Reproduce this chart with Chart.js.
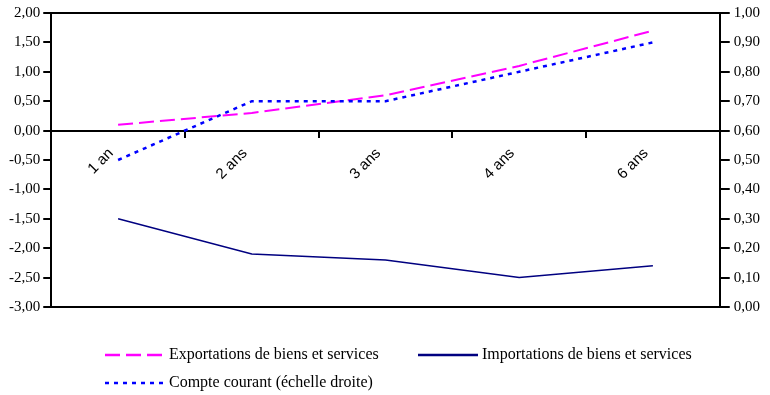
<!DOCTYPE html>
<html>
<head>
<meta charset="utf-8">
<title>Exportations, importations et compte courant</title>
<script src="https://cdn.jsdelivr.net/npm/chart.js@4"></script>
<style>
  body { margin: 0; background: #fff; }
  canvas { display: block; }
</style>
</head>
<body>
<canvas id="chart" width="770" height="395"></canvas>
<script>
// Horizons (axe des abscisses)
var horizons = ['1 an', '2 ans', '3 ans', '4 ans', '6 ans'];

// Echelle gauche
var exportations = [0.10, 0.30, 0.60, 1.10, 1.70];
var importations = [-1.50, -2.10, -2.20, -2.50, -2.30];

// Echelle droite
var compteCourant = [0.50, 0.70, 0.70, 0.80, 0.90];

// Graduations
var leftTicks = [-3, -2.5, -2, -1.5, -1, -0.5, 0, 0.5, 1, 1.5, 2];
var rightTicks = [0, 0.1, 0.2, 0.3, 0.4, 0.5, 0.6, 0.7, 0.8, 0.9, 1];

// format français : 0,50
function frNumber(v) {
    return Number(v).toFixed(2).replace('.', ',');
}

// fond blanc + cadre du graphique
var framePlugin = {
    id: 'frame',
    beforeDraw: function(chart) {
        var ctx = chart.ctx;
        ctx.save();
        ctx.fillStyle = '#ffffff';
        ctx.fillRect(0, 0, chart.width, chart.height);
        ctx.restore();
    },
    afterDraw: function(chart) {
        var a = chart.chartArea;
        var ctx = chart.ctx;
        ctx.save();
        ctx.strokeStyle = '#000';
        ctx.lineWidth = 2;
        ctx.beginPath();
        ctx.moveTo(a.left, a.top);
        ctx.lineTo(a.right, a.top);
        ctx.moveTo(a.left, a.bottom);
        ctx.lineTo(a.right, a.bottom);
        ctx.stroke();
        ctx.restore();
    }
};

// légende sur deux lignes, comme l'original
var legendSlots = [
    { x: 105, y: 355 },
    { x: 418, y: 355 },
    { x: 105, y: 383 }
];

var legendPlugin = {
    id: 'legendRows',
    afterDraw: function(chart) {
        var ctx = chart.ctx;
        chart.data.datasets.forEach(function(ds, i) {
            var slot = legendSlots[i];
            ctx.save();
            ctx.strokeStyle = ds.borderColor;
            ctx.lineWidth = 2.5;
            ctx.setLineDash(ds.borderDash || []);
            ctx.beginPath();
            ctx.moveTo(slot.x, slot.y);
            ctx.lineTo(slot.x + 60, slot.y);
            ctx.stroke();
            ctx.setLineDash([]);
            ctx.fillStyle = '#000';
            ctx.font = '16px "Liberation Serif"';
            ctx.textBaseline = 'middle';
            ctx.textAlign = 'left';
            ctx.fillText(ds.label, slot.x + 64, slot.y);
            ctx.restore();
        });
    }
};

var serif = { family: 'Liberation Serif', size: 15 };

var chart = new Chart(document.getElementById('chart').getContext('2d'), {
    type: 'line',
    data: {
        labels: horizons,
        datasets: [{
            label: 'Exportations de biens et services',
            data: exportations,
            yAxisID: 'y',
            borderColor: '#ff00ff',
            borderWidth: 2,
            borderDash: [15, 6],
            order: 1
        }, {
            label: 'Importations de biens et services',
            data: importations,
            yAxisID: 'y',
            borderColor: '#000080',
            borderWidth: 1.5,
            order: 2
        }, {
            label: 'Compte courant (échelle droite)',
            data: compteCourant,
            yAxisID: 'y1',
            borderColor: '#0000ff',
            borderWidth: 2.5,
            borderDash: [4, 5],
            order: 0
        }]
    },
    options: {
        responsive: false,
        animation: false,
        devicePixelRatio: 1,
        layout: { padding: { left: 6, right: 6, top: 0, bottom: 88 } },
        elements: {
            point: { radius: 0 },
            line: { tension: 0, fill: false }
        },
        plugins: {
            legend: { display: false },
            tooltip: { enabled: false }
        },
        scales: {
            x: {
                type: 'category',
                offset: true,
                position: { y: 0 },
                grid: { offset: true, drawOnChartArea: false, color: '#000', lineWidth: 2, tickLength: 6 },
                border: { display: true, color: '#000', width: 2 },
                ticks: {
                    color: '#000',
                    font: { family: 'Liberation Sans', size: 15 },
                    minRotation: 45,
                    maxRotation: 45,
                    autoSkip: false,
                    labelOffset: -7,
                    padding: 8
                }
            },
            y: {
                position: 'left',
                min: -3,
                max: 2,
                afterBuildTicks: function(axis) {
                    axis.ticks = leftTicks.map(function(v) { return { value: v }; });
                },
                grid: { drawOnChartArea: false, color: '#000', lineWidth: 2, tickLength: 8 },
                border: { color: '#000', width: 2 },
                ticks: { color: '#000', font: serif, padding: 3, callback: frNumber }
            },
            y1: {
                position: 'right',
                min: 0,
                max: 1,
                afterBuildTicks: function(axis) {
                    axis.ticks = rightTicks.map(function(v) { return { value: v }; });
                },
                grid: { drawOnChartArea: false, color: '#000', lineWidth: 2, tickLength: 10 },
                border: { color: '#000', width: 2 },
                ticks: { color: '#000', font: serif, padding: 4, callback: frNumber }
            }
        }
    },
    plugins: [framePlugin, legendPlugin]
});
</script>
</body>
</html>
